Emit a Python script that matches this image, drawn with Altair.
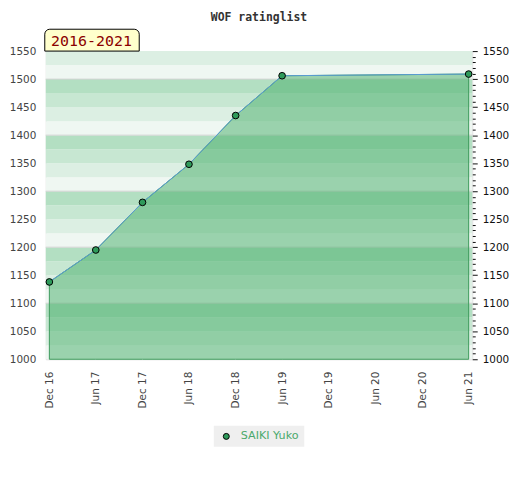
import altair as alt
import pandas as pd

# ---- data ----
player = "SAIKI Yuko"
period_label = "2016-2021"
chart_title = "WOF ratinglist"
dates = ["2016-12-01", "2017-06-01", "2017-12-01", "2018-06-01",
         "2018-12-01", "2019-06-01", "2021-06-01"]
ratings = [1138, 1195, 1280, 1348, 1435, 1506, 1509]
tick_dates = ["2016-12-01", "2017-06-01", "2017-12-01", "2018-06-01",
              "2018-12-01", "2019-06-01", "2019-12-01", "2020-06-01",
              "2020-12-01", "2021-06-01"]
y_domain = [1000, 1550]
x_domain = ["2016-11-17", "2021-06-15"]
band_starts = list(range(1000, 1550, 25))
grid_values = [1100, 1200, 1300, 1400, 1500]
major_values = list(range(1000, 1551, 50))
minor_values = list(range(1000, 1551, 10))
band_colors = ["#eff7f2", "#dcefe3", "#c7e7d2", "#b3dfc2"]

W, H = 429, 310
FONT = "DejaVu Sans"


def dt(s):
    y, m, d = (int(p) for p in s.split("-"))
    return alt.DateTime(year=y, month=m, date=d, utc=True)


df = pd.DataFrame({"date": dates, "rating": ratings, "player": [player] * len(dates)})
bands = pd.DataFrame({
    "lo": band_starts,
    "hi": [b + 25 for b in band_starts],
    "shade": [(b % 100) // 25 for b in band_starts],
})
grid = pd.DataFrame({"v": grid_values})
tab = pd.DataFrame({"label": [period_label]})

yscale = alt.Scale(domain=y_domain, nice=False, zero=False)
xscale = alt.Scale(type="utc", domain=[dt(x_domain[0]), dt(x_domain[1])], nice=False)

x_axis = alt.Axis(
    values=[dt(s) for s in tick_dates], format="%b %y", labelAngle=270,
    ticks=False, domain=False, grid=False, labelPadding=12,
    labelFont=FONT, labelFontSize=10.5, labelColor="#444444", title=None,
)
left_axis = alt.Axis(
    orient="left", values=major_values, format="d", ticks=False, domain=False,
    grid=False, labelPadding=10, labelFont=FONT, labelFontSize=10.5,
    labelColor="#444444", title=None,
)
right_axis = alt.Axis(
    orient="right", values=minor_values, format="d", domain=False, grid=False,
    labelExpr="datum.value % 50 === 0 ? datum.value : ''",
    tickSize={"condition": {"test": "datum.value % 50 === 0", "value": 5}, "value": 3},
    tickColor="#111111", tickWidth=1, labelPadding=5,
    labelFont=FONT, labelFontSize=10.5, labelColor="#111111", title=None,
)

base = alt.Chart(df)

band_layer = alt.Chart(bands).mark_rect().encode(
    x=alt.value(0), x2=alt.value(W),
    y=alt.Y("lo:Q", scale=yscale, axis=left_axis), y2="hi:Q",
    fill=alt.Fill("shade:O", scale=alt.Scale(domain=[0, 1, 2, 3], range=band_colors), legend=None),
)

grid_layer = alt.Chart(grid).mark_rule(color="#d4d4d4", strokeWidth=1).encode(
    x=alt.value(0), x2=alt.value(W),
    y=alt.Y("v:Q", scale=yscale, axis=None),
)

area_layer = base.mark_area(
    fill="#45ad68", fillOpacity=0.5, stroke="#3d9a5c", strokeWidth=1
).encode(
    x=alt.X("date:T", scale=xscale, axis=x_axis),
    y=alt.Y("rating:Q", scale=yscale, axis=None),
    y2=alt.datum(y_domain[0]),
)

line_layer = base.mark_line(color="#5b9bd5", strokeWidth=1).encode(
    x=alt.X("date:T", scale=xscale, axis=x_axis),
    y=alt.Y("rating:Q", scale=yscale, axis=None),
)

point_layer = base.mark_point(
    filled=True, size=45, stroke="#000000", strokeWidth=1, opacity=1
).encode(
    x=alt.X("date:T", scale=xscale, axis=x_axis),
    y=alt.Y("rating:Q", scale=yscale, axis=right_axis),
    color=alt.Color(
        "player:N", scale=alt.Scale(range=["#2e9a5a"]),
        legend=alt.Legend(
            title=None, orient="none", legendX=169, legendY=377,
            fillColor="#efefef", padding=5, symbolOffset=2,
            symbolType="circle", symbolSize=36,
            symbolStrokeColor="#000000", symbolStrokeWidth=1,
            labelColor="#4aa96c", labelFont=FONT, labelFontSize=11.2,
            labelOffset=9,
        ),
    ),
)

tab_rect = alt.Chart(tab).mark_rect(
    fill="#ffffcc", stroke="#000000", strokeWidth=1,
    cornerRadiusTopLeft=5, cornerRadiusTopRight=5,
).encode(
    x=alt.value(-1), x2=alt.value(94), y=alt.value(-22), y2=alt.value(0),
)
tab_text = alt.Chart(tab).mark_text(
    font="DejaVu Sans Mono", fontSize=15, color="#8b0000",
    align="center", baseline="alphabetic",
).encode(
    x=alt.value(46), y=alt.value(-5), text="label:N",
)

chart = alt.layer(
    band_layer, grid_layer, area_layer, line_layer, point_layer, tab_rect, tab_text
).resolve_axis(y="independent").properties(
    width=W, height=H,
    title=alt.Title(
        chart_title, font="DejaVu Sans Mono", fontSize=11.5, fontWeight="bold",
        color="#333333", anchor="middle", frame="group", baseline="alphabetic",
        offset=-4,
    ),
    autosize=alt.AutoSizeParams(type="none"),
    padding={"left": 38, "top": 42, "right": 40, "bottom": 100},
).configure_view(
    stroke="#cccccc", strokeWidth=1
).configure(background="white")

chart.save("out.html", embed_options={"renderer": "svg", "actions": False})
